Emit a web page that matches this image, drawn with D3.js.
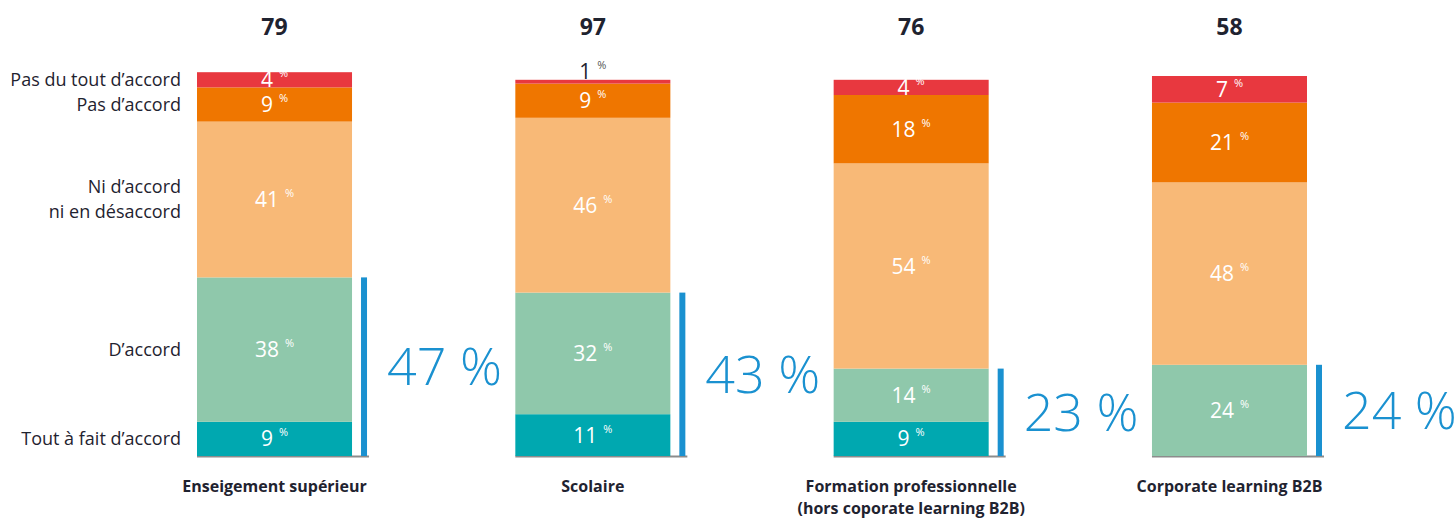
<!DOCTYPE html>
<html>
<head>
<meta charset="utf-8">
<script src="https://cdn.jsdelivr.net/npm/d3@7"></script>
<style>
  html, body { margin: 0; padding: 0; background: #fff; }
  svg { display: block; font-family: "Open Sans", "Noto Sans", sans-serif; }
</style>
</head>
<body>
<svg id="chart" width="1456" height="518"></svg>
<script>
// Survey sectors (bars), in drawing order
const categories = [
  ["Enseigement supérieur"],
  ["Scolaire"],
  ["Formation professionnelle", "(hors coporate learning B2B)"],
  ["Corporate learning B2B"]
];
// Number of respondents per sector
const respondents = [79, 97, 76, 58];

// Answer levels, from bottom of the stack to top
const levels = [
  ["Tout à fait d’accord"],
  ["D’accord"],
  ["Ni d’accord", "ni en désaccord"],
  ["Pas d’accord"],
  ["Pas du tout d’accord"]
];

// Share of answers (%) per level, one array per level, values per sector
const toutAFait   = [9, 11, 9, 0];
const dAccord     = [38, 32, 14, 24];
const niNi        = [41, 46, 54, 48];
const pasDAccord  = [9, 9, 18, 21];
const pasDuTout   = [4, 1, 4, 7];

// Combined agreement shown beside each bar
const agreeTotal  = [47, 43, 23, 24];

const colors = ["#00a8b0", "#8fc8ab", "#f8b977", "#ef7600", "#e8383f"];
const series = [toutAFait, dAccord, niNi, pasDAccord, pasDuTout];

const svg = d3.select("#chart");
const keys = categories.map((c, i) => i);

const x = d3.scaleBand()
  .domain(keys)
  .range([197, 1307])
  .paddingInner(0.513)
  .paddingOuter(0);

const y = d3.scaleLinear().domain([0, 100]).range([456, 76]);

const rows = keys.map(i => {
  const r = { key: i };
  series.forEach((s, j) => r["l" + j] = s[i]);
  return r;
});
const stack = d3.stack().keys(series.map((s, j) => "l" + j))(rows);

// Baselines under each bar and its bracket
svg.append("g").selectAll("line").data(keys).join("line")
  .attr("x1", d => x(d))
  .attr("x2", d => x(d) + x.bandwidth() + 17)
  .attr("y1", y(0) + 0.5).attr("y2", y(0) + 0.5)
  .attr("stroke", "#8c8c8c").attr("stroke-width", 2);

// Stacked segments
const layers = svg.append("g").selectAll("g").data(stack).join("g")
  .attr("fill", (d, j) => colors[j]);
layers.selectAll("rect").data(d => d.filter(p => p[1] - p[0] > 0)).join("rect")
  .attr("x", d => x(d.data.key))
  .attr("width", x.bandwidth())
  .attr("y", d => y(d[1]))
  .attr("height", d => y(d[0]) - y(d[1]));

// Segment value labels
stack.forEach((layer, j) => {
  layer.forEach(p => {
    const v = p[1] - p[0];
    if (v <= 0) return;
    const small = v < 2;
    const cy = small ? y(p[1]) - 8 : (y(p[0]) + y(p[1])) / 2;
    const t = svg.append("text")
      .attr("x", x(p.data.key) + x.bandwidth() / 2)
      .attr("y", cy)
      .attr("dy", "0.36em")
      .attr("text-anchor", "middle")
      .attr("fill", small ? "#1f2330" : "#ffffff")
      .attr("font-size", 21);
    t.append("tspan").text(v);
    t.append("tspan").text("%")
      .attr("font-size", 11).attr("dx", 6).attr("dy", -10)
      .attr("fill", small ? "#555" : "#ffffff");
  });
});

// Agreement brackets and big percentages
const agreeLow = toutAFait.map((v, i) => v + dAccord[i]);
svg.append("g").selectAll("rect").data(keys).join("rect")
  .attr("x", d => x(d) + x.bandwidth() + 9)
  .attr("width", 6)
  .attr("y", d => y(agreeLow[d]))
  .attr("height", d => y(0) - y(agreeLow[d]))
  .attr("fill", "#1a91d0");

svg.append("g").selectAll("text").data(keys).join("text")
  .attr("x", d => x(d) + x.bandwidth() + 35)
  .attr("y", d => (y(0) + y(agreeLow[d])) / 2)
  .attr("dy", "0.36em")
  .attr("fill", "#1a91d0")
  .attr("font-size", 52)
  .attr("font-weight", 300)
  .text(d => agreeTotal[d] + " %");

// Respondent counts on top
svg.append("g").selectAll("text").data(keys).join("text")
  .attr("x", d => x(d) + x.bandwidth() / 2)
  .attr("y", 27)
  .attr("dy", "0.36em")
  .attr("text-anchor", "middle")
  .attr("fill", "#1f2330")
  .attr("font-size", 23)
  .attr("font-weight", 700)
  .text(d => respondents[d]);

// Sector names under bars
const cat = svg.append("g").selectAll("text").data(keys).join("text")
  .attr("x", d => x(d) + x.bandwidth() / 2)
  .attr("y", 486)
  .attr("text-anchor", "middle")
  .attr("fill", "#1f2330")
  .attr("font-size", 16)
  .attr("font-weight", 700);
cat.selectAll("tspan").data(d => categories[d]).join("tspan")
  .attr("x", function () { return this.parentNode.getAttribute("x"); })
  .attr("dy", (d, i) => i === 0 ? "0.36em" : 22)
  .text(d => d);

// Level names to the left, aligned with the first bar's segments
const first = stack.map(layer => layer[0]);
const lv = svg.append("g").selectAll("text").data(levels).join("text")
  .attr("x", 181)
  .attr("text-anchor", "end")
  .attr("fill", "#1f2330")
  .attr("font-size", 18);
lv.each(function (lines, j) {
  const p = first[j];
  const cy = (y(p[0]) + y(p[1])) / 2;
  const lh = 25;
  const top = cy - (lines.length - 1) * lh / 2;
  d3.select(this).selectAll("tspan").data(lines).join("tspan")
    .attr("x", 181)
    .attr("y", (d, i) => top + i * lh)
    .attr("dy", "0.36em")
    .text(d => d);
});
</script>
</body>
</html>
